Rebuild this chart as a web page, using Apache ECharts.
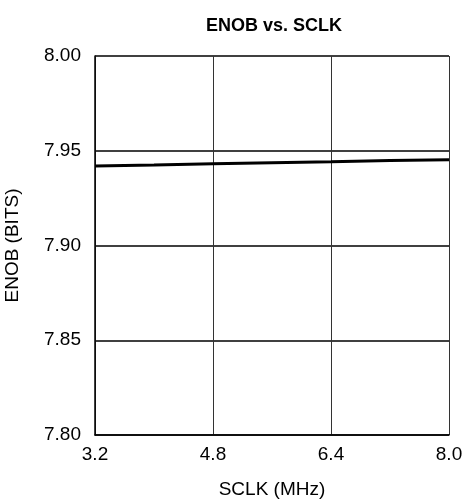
<!DOCTYPE html>
<html><head><meta charset="utf-8">
<script src="https://cdn.jsdelivr.net/npm/echarts@6/dist/echarts.min.js"></script>
<style>html,body{margin:0;padding:0;background:#fff}#c{width:468px;height:502px}</style>
</head><body><div id="c"></div>
<script>
const sclk = [3.2, 4.0, 4.8, 5.6, 6.4, 7.2, 8.0];
const enob = [7.9420, 7.9425, 7.9432, 7.9437, 7.9442, 7.9448, 7.9453];
const xTicks = ['3.2', '4.8', '6.4', '8.0'];
const yTicks = ['7.80', '7.85', '7.90', '7.95', '8.00'];

const chart = echarts.init(document.getElementById('c'));
const font = 'Liberation Sans, Arial, sans-serif';
chart.setOption({
  animation: false,
  title: {text: 'ENOB vs. SCLK', left: 269, top: 12, textAlign: 'center',
    textStyle: {fontFamily: font, fontSize: 18, fontWeight: 'bold', color: '#000'}},
  grid: {left: 95, right: 19, top: 56, bottom: 67, outerBoundsMode: 'none', containLabel: false},
  xAxis: {type: 'value', min: 3.2, max: 8.0, interval: 1.6,
    name: 'SCLK (MHz)', nameLocation: 'middle', nameGap: 45,
    nameTextStyle: {fontFamily: font, fontSize: 19, color: '#000'},
    axisLine: {show: true, lineStyle: {color: '#000', width: 1.5}},
    axisTick: {show: false},
    axisLabel: {fontFamily: font, fontSize: 19, color: '#000', margin: 10,
      formatter: v => xTicks.find(t => Math.abs(parseFloat(t) - v) < 1e-6) || ''},
    splitLine: {show: true, lineStyle: {color: '#333', width: 1}}},
  yAxis: {type: 'value', min: 7.80, max: 8.00, interval: 0.05,
    name: 'ENOB (BITS)', nameLocation: 'middle', nameGap: 73, nameRotate: 90,
    nameTextStyle: {fontFamily: font, fontSize: 19, color: '#000'},
    axisLine: {show: true, lineStyle: {color: '#000', width: 1.5}},
    axisTick: {show: false},
    axisLabel: {fontFamily: font, fontSize: 19, color: '#000', margin: 14,
      formatter: v => yTicks.find(t => Math.abs(parseFloat(t) - v) < 1e-6) || ''},
    splitLine: {show: true, lineStyle: {color: '#000', width: 1.5}}},
  series: [{type: 'line', data: sclk.map((x, i) => [x, enob[i]]), showSymbol: false,
    lineStyle: {color: '#000', width: 3}}]
});
</script></body></html>
